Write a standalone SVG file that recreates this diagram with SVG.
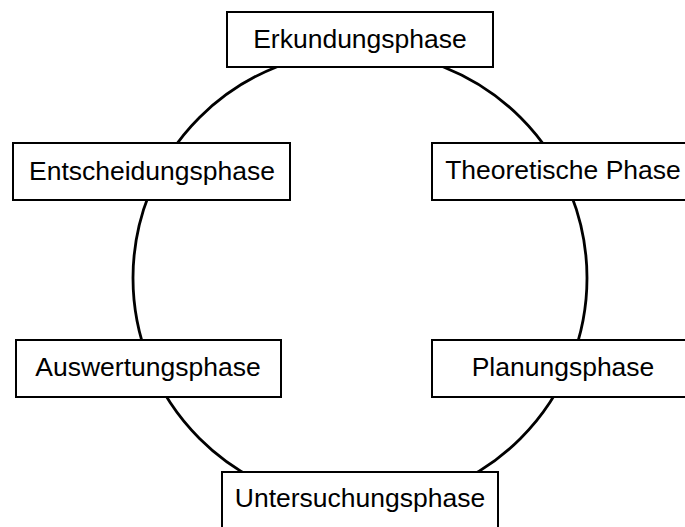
<svg xmlns="http://www.w3.org/2000/svg" width="685" height="527" viewBox="0 0 685 527">
  <style>
    .box rect { fill: #fff; stroke: #000; stroke-width: 2; }
    .box text { font-family: "Liberation Sans", Arial, sans-serif; font-size: 26.5px; fill: #000; text-anchor: middle; }
    .cycle { fill: none; stroke: #000; stroke-width: 2.8; }
  </style>
  <rect width="685" height="527" fill="#fff"/>
  <g id="connectors">
    <circle class="cycle" cx="360" cy="278" r="227"/>
  </g>
  <g id="erkundung" class="box">
    <rect x="227" y="12" width="266" height="55"/>
    <text x="360" y="47.5">Erkundungsphase</text>
  </g>
  <g id="theoretisch" class="box">
    <rect x="432" y="143" width="262" height="57"/>
    <text x="563" y="179">Theoretische Phase</text>
  </g>
  <g id="planung" class="box">
    <rect x="432" y="340" width="262" height="57"/>
    <text x="563" y="375.5">Planungsphase</text>
  </g>
  <g id="untersuchung" class="box">
    <rect x="222" y="472" width="276" height="70"/>
    <text x="360" y="506.5">Untersuchungsphase</text>
  </g>
  <g id="auswertung" class="box">
    <rect x="16" y="340" width="265" height="57"/>
    <text x="148" y="375.5">Auswertungsphase</text>
  </g>
  <g id="entscheidung" class="box">
    <rect x="13" y="143" width="277" height="57"/>
    <text x="152" y="180">Entscheidungsphase</text>
  </g>
</svg>
